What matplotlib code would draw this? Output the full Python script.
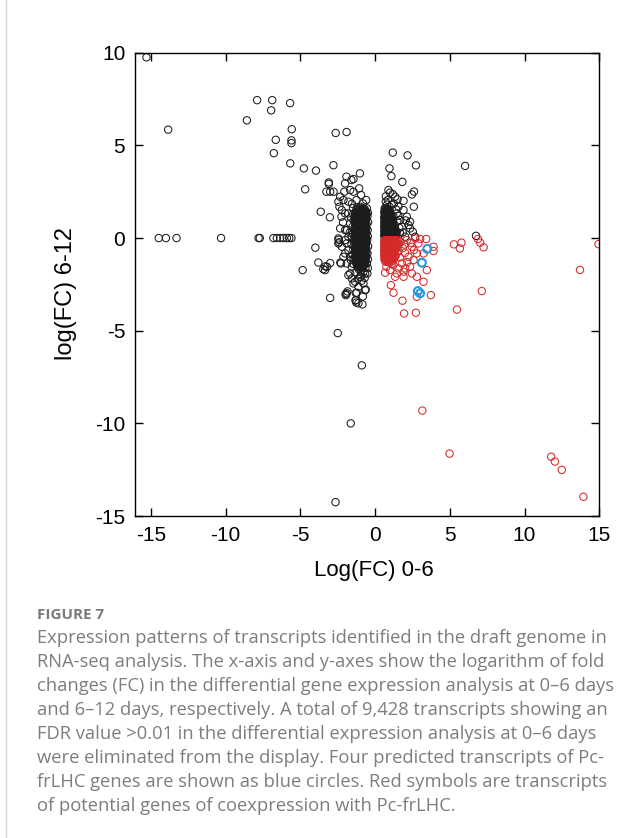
import matplotlib
matplotlib.use('Agg')
import matplotlib.pyplot as plt
from matplotlib.lines import Line2D

# ---- data ----
# scattered black transcripts (x = log FC 0-6, y = log FC 6-12)
black_pts = [
    (-15.30, 9.75), (-13.85, 5.85), (-8.58, 6.35), (-7.90, 7.44), (-6.89, 7.44),
    (-6.96, 6.89), (-5.69, 7.28), (-5.58, 5.87), (-5.60, 5.27), (-5.60, 5.12),
    (-6.65, 5.30), (-6.78, 4.58), (-5.68, 4.03), (-4.77, 3.76), (-3.96, 3.64),
    (-2.79, 3.93), (-4.68, 2.63), (-2.64, 5.67), (-1.91, 5.72), (-1.02, 3.49),
    (-3.10, 3.00), (-3.10, 2.92), (-3.26, 2.50), (-3.01, 2.50), (-2.78, 2.50),
    (-3.64, 1.42), (-3.03, 1.12),
    (-14.48, 0.0), (-14.00, 0.0), (-13.29, 0.0), (-10.31, 0.0), (-7.80, 0.0),
    (-7.72, 0.0), (-6.81, 0.0), (-6.58, 0.0), (-6.36, 0.0), (-6.14, 0.0),
    (-5.91, 0.0), (-5.75, 0.0), (-5.60, 0.0),
    (-4.00, -0.52), (-3.80, -1.32), (-4.85, -1.73), (-3.47, -1.68), (-3.34, -1.53),
    (-3.22, -1.55), (-3.01, -1.35), (-3.35, -1.73), (-3.01, -3.23), (-2.50, -5.13),
    (-0.89, -6.87), (-1.63, -10.0), (-2.65, -14.25),
    (-1.97, -3.02), (-1.85, -2.88), (-1.29, -2.97), (-1.26, -3.48), (-1.31, -3.37),
    (-0.85, -3.58), (-0.82, -3.15), (-0.63, -2.78), (-2.33, -1.32), (-2.44, -0.09),
    (-2.41, -0.23),
    (-1.92, 3.31), (-1.59, 3.13), (-1.45, 3.18), (-2.01, 2.95), (-1.67, 2.59),
    (-1.07, 2.68), (-2.06, 2.50), (-1.45, 2.50), (-0.94, 2.32), (-2.34, 2.23),
    (-2.46, 1.96), (-2.12, 2.05), (-1.79, 1.96), (-2.23, 1.51), (-2.01, 1.33),
    (-2.39, 1.69), (-0.60, 2.05), (-0.82, 1.87), (-1.00, 1.69),
    (-2.34, 0.52), (-2.46, -0.02), (-2.01, 0.43), (-1.79, 0.07), (-2.23, -0.47),
    (-1.90, -0.29), (-2.46, -0.29), (-2.01, -0.83), (-1.67, -1.01), (-2.12, -1.01),
    (-2.28, -1.37), (-1.90, -1.37), (-1.56, -1.55),
    (-1.67, -1.91), (-1.56, -2.18), (-1.79, -2.00), (-1.34, -2.36), (-1.00, -2.09),
    (-0.67, -1.91), (-0.78, -2.45), (-1.12, -2.63), (-1.45, -2.45),
    (-0.67, -2.81), (-1.23, -2.95), (-1.90, -2.98), (-1.96, -3.08), (-1.29, -3.35),
    (-1.12, -3.52),
    (-0.55, 1.60), (-0.52, 1.15), (-0.50, 0.43), (-0.53, -0.11), (-0.51, -0.83),
    (-0.55, -1.37), (-0.52, -1.91),
    (-1.79, 1.33), (-1.67, 0.79), (-1.90, 0.43), (-1.56, 0.07), (-1.79, -0.65),
    (-1.63, -1.19), (-2.01, -0.11),
    (-1.55, 1.85), (-1.25, 2.05), (-1.48, 1.62), (-1.62, 1.10), (-1.52, 0.60),
    (-1.58, -0.35), (-1.50, -0.90), (-1.45, -1.40), (-1.30, -1.85), (-0.95, -1.75),
    (-0.65, -1.60), (-1.15, -2.20), (-0.90, -2.30), (-1.70, 0.30), (-2.15, 0.85),
    (-2.25, 1.15),
    (-1.47, 1.30), (-1.44, 0.95), (-1.48, 0.25), (-1.45, -0.10), (-1.46, -0.62),
    (-1.44, -1.10), (-0.48, 1.35), (-0.47, 0.85), (-0.49, 0.10), (-0.47, -0.45),
    (-0.48, -1.15), (-0.49, -1.62), (-1.20, 1.65), (-0.85, 1.62), (-1.10, -1.68),
    (-0.80, -1.85), (-0.95, -2.00), (-0.70, -2.15),
    # right-hand black group
    (1.18, 4.61), (2.17, 4.46), (2.73, 3.92), (0.96, 3.76), (1.09, 3.34),
    (1.82, 3.03), (6.02, 3.89), (2.60, 2.51), (2.46, 2.35), (2.59, 1.69),
    (0.89, 2.59), (1.00, 2.45), (1.18, 2.37), (1.34, 2.23), (1.50, 2.09),
    (0.71, 1.96), (0.96, 1.69), (1.56, 1.69), (1.90, 2.01),
    (1.90, 1.51), (2.12, 1.15), (2.34, 0.88), (2.34, 0.52), (2.68, 0.07),
    (2.01, 0.07), (1.67, 0.25), (2.23, 0.70), (2.52, 0.34),
    (1.67, 0.97), (1.45, 1.33), (1.23, 1.15), (1.79, 0.61), (6.75, 0.12),
    (0.72, 2.25), (0.85, 2.05), (1.25, 1.85), (1.40, 1.55), (1.55, 1.20),
    (1.48, 0.90), (1.62, 0.55), (1.45, 0.35), (1.85, 0.30), (2.05, 0.95),
    (1.10, 1.80), (0.80, 1.80),
]

# dense cores, one row per y level: (y, [x values])
left_core_rows = [
    (1.48, [-1.28, -1.10, -0.95, -0.80, -0.66]),
    (1.42, [-1.20, -1.03, -0.88, -0.73, -0.60]),
    (1.36, [-1.33, -1.17, -1.02, -0.88, -0.72, -0.61]),
    (1.29, [-1.30, -1.15, -1.00, -0.86, -0.70, -0.58]),
    (1.22, [-1.25, -1.12, -0.97, -0.83, -0.68]),
    (1.16, [-1.22, -1.08, -0.94, -0.80, -0.66]),
    (1.10, [-1.35, -1.20, -1.05, -0.90, -0.76, -0.62]),
    (1.03, [-1.32, -1.18, -1.02, -0.88, -0.72, -0.59]),
    (0.97, [-1.29, -1.14, -0.99, -0.85, -0.70]),
    (0.90, [-1.24, -1.10, -0.95, -0.81, -0.66]),
    (0.84, [-1.34, -1.22, -1.07, -0.93, -0.78, -0.63]),
    (0.77, [-1.31, -1.16, -1.02, -0.87, -0.72, -0.58]),
    (0.71, [-1.27, -1.12, -0.98, -0.82, -0.68]),
    (0.64, [-1.23, -1.09, -0.94, -0.80, -0.65]),
    (0.58, [-1.36, -1.20, -1.04, -0.90, -0.75, -0.61]),
    (0.51, [-1.32, -1.17, -1.02, -0.88, -0.73, -0.59]),
    (0.45, [-1.30, -1.15, -1.00, -0.86, -0.70]),
    (0.38, [-1.25, -1.10, -0.96, -0.81, -0.66]),
    (0.32, [-1.34, -1.22, -1.08, -0.93, -0.78, -0.64]),
    (0.25, [-1.30, -1.16, -1.01, -0.86, -0.72, -0.58]),
    (0.19, [-1.26, -1.13, -0.97, -0.83, -0.69]),
    (0.12, [-1.23, -1.09, -0.94, -0.79, -0.65]),
    (0.06, [-1.35, -1.19, -1.05, -0.90, -0.74, -0.61]),
    (-0.01, [-1.31, -1.17, -1.02, -0.87, -0.72, -0.59]),
    (-0.07, [-1.29, -1.14, -1.00, -0.85, -0.70]),
    (-0.14, [-1.24, -1.10, -0.95, -0.80, -0.66]),
    (-0.20, [-1.33, -1.21, -1.06, -0.92, -0.77, -0.63]),
    (-0.27, [-1.30, -1.16, -1.01, -0.87, -0.73, -0.59]),
    (-0.33, [-1.27, -1.11, -0.97, -0.82, -0.68]),
    (-0.40, [-1.23, -1.08, -0.94, -0.79, -0.65]),
    (-0.46, [-1.36, -1.19, -1.04, -0.89, -0.74, -0.62]),
    (-0.53, [-1.32, -1.17, -1.02, -0.88, -0.73, -0.60]),
    (-0.59, [-1.30, -1.15, -1.00, -0.86, -0.71]),
    (-0.66, [-1.25, -1.10, -0.95, -0.81, -0.67]),
    (-0.72, [-1.34, -1.21, -1.07, -0.93, -0.78, -0.64]),
    (-0.79, [-1.30, -1.16, -1.02, -0.87, -0.72, -0.59]),
    (-0.85, [-1.26, -1.12, -0.98, -0.83, -0.69]),
    (-0.92, [-1.23, -1.09, -0.94, -0.80, -0.66]),
    (-0.98, [-1.33, -1.18, -1.04, -0.90, -0.75, -0.62]),
    (-1.05, [-1.31, -1.16, -1.01, -0.87, -0.72, -0.60]),
    (-1.11, [-1.28, -1.14, -0.99, -0.85, -0.70]),
    (-1.18, [-1.24, -1.10, -0.95, -0.81, -0.67]),
    (-1.24, [-1.31, -1.20, -1.06, -0.91, -0.77, -0.65]),
    (-1.31, [-1.28, -1.14, -1.00, -0.86, -0.72]),
    (-1.37, [-1.25, -1.10, -0.96, -0.82, -0.69]),
    (-1.44, [-1.18, -1.02, -0.88, -0.74]),
    (-1.50, [-1.21, -1.05, -0.90, -0.76]),
    (-1.58, [-1.15, -0.98, -0.84]),
    (1.56, [-1.15, -0.98, -0.84, -0.70]),
]

right_core_rows = [
    (1.60, [0.64, 0.78]),
    (1.54, [0.67, 0.81, 0.93]),
    (1.48, [0.70, 0.84, 0.98]),
    (1.42, [0.62, 0.76, 0.90]),
    (1.36, [0.63, 0.77, 0.92]),
    (1.30, [0.66, 0.80, 0.94, 1.02]),
    (1.24, [0.68, 0.82, 0.96, 1.08]),
    (1.18, [0.64, 0.79, 0.93, 1.07]),
    (1.12, [0.62, 0.76, 0.90, 1.04]),
    (1.06, [0.62, 0.74, 0.88, 1.02, 1.15]),
    (1.00, [0.67, 0.81, 0.95, 1.10]),
    (0.94, [0.66, 0.80, 0.95, 1.10]),
    (0.88, [0.63, 0.77, 0.92, 1.06, 1.20]),
    (0.82, [0.62, 0.75, 0.89, 1.03, 1.17]),
    (0.76, [0.68, 0.82, 0.97, 1.12]),
    (0.70, [0.65, 0.79, 0.94, 1.08, 1.24]),
    (0.64, [0.62, 0.76, 0.90, 1.05, 1.20]),
    (0.58, [0.62, 0.74, 0.88, 1.03, 1.16, 1.32]),
    (0.52, [0.67, 0.81, 0.96, 1.10, 1.26]),
    (0.46, [0.65, 0.80, 0.94, 1.09, 1.24]),
    (0.40, [0.63, 0.77, 0.92, 1.07, 1.22]),
    (0.34, [0.62, 0.74, 0.89, 1.04, 1.19, 1.36]),
    (0.28, [0.68, 0.82, 0.97, 1.12, 1.30]),
    (0.22, [0.65, 0.79, 0.94, 1.09, 1.25, 1.42]),
    (0.16, [0.62, 0.76, 0.91, 1.06, 1.22, 1.38]),
    (0.10, [0.62, 0.74, 0.89, 1.04, 1.19, 1.35]),
    (0.05, [0.67, 0.82, 0.97, 1.12, 1.28]),
]

# red: candidate co-expressed transcripts
red_pts = [
    (3.01, -0.05), (3.42, -0.05), (3.91, -0.47), (3.91, -0.70), (5.27, -0.34),
    (5.67, -0.56), (5.78, -0.25), (6.88, -0.05), (7.03, -0.25), (7.26, -0.50),
    (14.95, -0.33), (13.71, -1.72), (7.14, -2.86), (5.47, -3.86), (3.24, -0.83),
    (3.46, -1.73), (2.79, -2.09), (3.24, -2.36), (3.73, -3.08), (2.79, -3.17),
    (1.83, -3.38), (1.05, -2.54), (1.23, -2.95), (0.67, -1.87), (1.94, -4.07),
    (2.73, -4.03), (3.16, -9.31), (4.98, -11.63), (11.78, -11.80), (12.03, -12.06),
    (12.49, -12.51), (13.94, -13.96),
    (1.00, -1.73), (1.45, -1.91), (1.90, -1.82), (2.34, -1.55), (2.57, -1.19),
    (2.79, -0.83), (2.46, -0.47), (2.12, -0.11), (2.68, -0.02), (2.90, -0.29),
    (2.23, -1.01), (1.79, -1.37), (1.23, -1.46), (1.56, -1.64), (2.01, -1.64),
    (2.46, -1.91), (1.34, -2.09), (1.90, -2.09),
    (1.70, -0.20), (1.85, -0.55), (2.00, -0.80), (1.65, -1.05), (2.40, -0.25),
    (2.60, -0.65), (1.95, -0.35), (0.75, -1.55), (1.10, -1.40), (2.15, -1.30),
]

red_core_rows = [
    (-0.12, [0.62, 0.76, 0.90, 1.04, 1.18, 1.32, 1.50]),
    (-0.18, [0.62, 0.73, 0.87, 1.01, 1.15, 1.28, 1.45]),
    (-0.25, [0.66, 0.80, 0.95, 1.10, 1.24, 1.40]),
    (-0.31, [0.64, 0.78, 0.92, 1.07, 1.21, 1.37, 1.60]),
    (-0.38, [0.62, 0.76, 0.90, 1.04, 1.18, 1.34, 1.55]),
    (-0.44, [0.62, 0.73, 0.87, 1.01, 1.15, 1.30, 1.48]),
    (-0.51, [0.68, 0.82, 0.97, 1.12, 1.26, 1.44]),
    (-0.57, [0.64, 0.78, 0.93, 1.08, 1.23, 1.40]),
    (-0.64, [0.62, 0.75, 0.90, 1.05, 1.20, 1.36]),
    (-0.70, [0.62, 0.72, 0.86, 1.01, 1.16, 1.32, 1.55]),
    (-0.77, [0.67, 0.82, 0.96, 1.10, 1.28, 1.50]),
    (-0.83, [0.64, 0.79, 0.93, 1.08, 1.24]),
    (-0.90, [0.62, 0.76, 0.90, 1.05, 1.20]),
    (-0.96, [0.62, 0.73, 0.87, 1.02, 1.17, 1.38]),
    (-1.03, [0.68, 0.83, 0.98, 1.14, 1.32]),
    (-1.09, [0.64, 0.80, 0.95, 1.10, 1.25]),
    (-1.16, [0.63, 0.78, 0.94, 1.10]),
    (-1.22, [0.67, 0.83, 0.99, 1.18]),
    (-1.29, [0.72, 0.88, 1.05]),
]

# blue: Pc-frLHC transcripts
blue_x = [3.49, 3.13, 2.86, 3.01]
blue_y = [-0.58, -1.33, -2.86, -2.98]

x_ticks = [-15, -10, -5, 0, 5, 10, 15]
y_ticks = [-15, -10, -5, 0, 5, 10]

caption_title = "FIGURE 7"
caption_lines = [
    "Expression patterns of transcripts identified in the draft genome in",
    "RNA-seq analysis. The x-axis and y-axes show the logarithm of fold",
    "changes (FC) in the differential gene expression analysis at 0\u20136 days",
    "and 6\u201312 days, respectively. A total of 9,428 transcripts showing an",
    "FDR value >0.01 in the differential expression analysis at 0\u20136 days",
    "were eliminated from the display. Four predicted transcripts of Pc-",
    "frLHC genes are shown as blue circles. Red symbols are transcripts",
    "of potential genes of coexpression with Pc-frLHC.",
]


def expand(rows):
    xs, ys = [], []
    for y, row in rows:
        for x in row:
            xs.append(x)
            ys.append(y)
    return xs, ys


bx = [p[0] for p in black_pts]
by = [p[1] for p in black_pts]
for xs, ys in (expand(left_core_rows), expand(right_core_rows)):
    bx += xs
    by += ys
rx = [p[0] for p in red_pts]
ry = [p[1] for p in red_pts]
xs, ys = expand(red_core_rows)
rx += xs
ry += ys

plt.rcParams['font.family'] = ['Liberation Sans', 'DejaVu Sans']
plt.rcParams['axes.unicode_minus'] = False

fig = plt.figure(figsize=(6.41, 8.38), dpi=100)
ax = fig.add_axes([0.2106, 0.3842, 0.7243, 0.5529])

ms = 28
ax.scatter(bx, by, s=ms, facecolors='none', edgecolors='#1c1c1c', linewidths=0.75)
ax.scatter(rx, ry, s=ms, facecolors='none', edgecolors='#d42a2a', linewidths=0.75)
ax.scatter(blue_x, blue_y, s=ms + 4, facecolors='none', edgecolors='#1b9de2', linewidths=1.5)

ax.set_xlim(-16.07, 15)
ax.set_ylim(-15, 10)
ax.set_xticks(x_ticks)
ax.set_yticks(y_ticks)
ax.tick_params(direction='in', top=True, right=True, length=6, width=1.0,
               labelsize=15, pad=7)
for s in ax.spines.values():
    s.set_linewidth(1.0)

fig.text(374 / 641, 1 - 570 / 838, 'Log(FC) 0-6', ha='center', va='center', fontsize=16)
fig.text(66 / 641, 1 - 293 / 838, 'log(FC) 6-12', ha='center', va='center',
         rotation=90, fontsize=17)

# caption
fig.text(37 / 641, 1 - 619 / 838, caption_title, ha='left', va='baseline',
         fontsize=11, fontweight='bold', color='#7a7a7a', family='Open Sans')
for i, line in enumerate(caption_lines):
    fig.text(37 / 641, 1 - (643 + 24 * i) / 838, line, ha='left', va='baseline',
             fontsize=13.2, color='#7d7d7d', family='Open Sans')

# page edge line on the left
fig.add_artist(Line2D([6 / 641, 6 / 641], [0, 1], transform=fig.transFigure,
                      color='#d6d6d6', linewidth=1))

fig.savefig('out.png', dpi=100)
